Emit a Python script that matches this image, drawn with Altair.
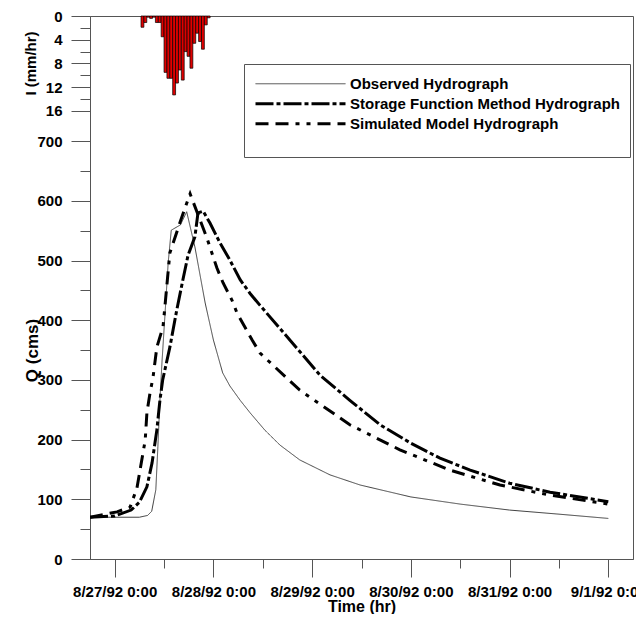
import altair as alt
import pandas as pd

series_names = ["Observed Hydrograph", "Storage Function Method Hydrograph", "Simulated Model Hydrograph"]

obs_time = ["1992-08-26T18:00", "1992-08-27T06:00", "1992-08-27T08:00", "1992-08-27T09:00", "1992-08-27T10:00",
            "1992-08-27T10:30", "1992-08-27T11:00", "1992-08-27T11:30", "1992-08-27T12:15", "1992-08-27T13:00",
            "1992-08-27T13:45", "1992-08-27T16:00", "1992-08-27T17:30", "1992-08-27T19:30", "1992-08-27T22:00",
            "1992-08-28T00:00", "1992-08-28T02:15", "1992-08-28T04:00", "1992-08-28T06:30", "1992-08-28T08:55",
            "1992-08-28T12:30", "1992-08-28T16:10", "1992-08-28T21:00", "1992-08-29T04:20", "1992-08-29T11:40",
            "1992-08-30T00:00", "1992-08-30T12:00", "1992-08-31T00:00", "1992-08-31T12:15", "1992-09-01T00:00"]
obs_q = [70, 70, 73, 80, 116, 188, 266, 330, 412, 496, 551, 560, 582, 523, 429,
         367, 312, 290, 266, 245, 216, 191, 166, 141, 124, 104, 92, 82, 75, 68]

sfm_time = ["1992-08-26T18:00", "1992-08-27T00:00", "1992-08-27T04:00", "1992-08-27T06:00", "1992-08-27T07:50",
            "1992-08-27T09:05", "1992-08-27T10:15", "1992-08-27T11:00", "1992-08-27T11:40", "1992-08-27T13:25",
            "1992-08-27T15:05", "1992-08-27T16:35", "1992-08-27T17:50", "1992-08-27T19:30", "1992-08-27T20:15",
            "1992-08-27T21:30", "1992-08-27T23:10", "1992-08-28T01:35", "1992-08-28T04:00", "1992-08-28T06:30",
            "1992-08-28T08:55", "1992-08-28T11:20", "1992-08-28T18:35", "1992-08-29T01:55", "1992-08-29T09:10",
            "1992-08-29T16:30", "1992-08-30T00:00", "1992-08-30T07:05", "1992-08-30T14:25", "1992-08-31T00:00",
            "1992-08-31T09:50", "1992-09-01T00:00"]
sfm_q = [70, 72, 82, 95, 121, 161, 216, 266, 300, 355, 417, 468, 509, 540, 580,
         583, 563, 530, 501, 468, 445, 425, 367, 308, 266, 225, 194, 169, 149, 127, 112, 96]

sim_time = ["1992-08-26T18:00", "1992-08-27T00:35", "1992-08-27T03:45", "1992-08-27T05:25", "1992-08-27T06:10",
            "1992-08-27T07:25", "1992-08-27T07:50", "1992-08-27T08:35", "1992-08-27T09:20", "1992-08-27T10:15",
            "1992-08-27T11:45", "1992-08-27T13:25", "1992-08-27T15:50", "1992-08-27T17:20", "1992-08-27T18:20",
            "1992-08-27T22:25", "1992-08-28T00:50", "1992-08-28T02:20", "1992-08-28T04:30", "1992-08-28T05:45",
            "1992-08-28T09:25", "1992-08-28T11:20", "1992-08-28T21:00", "1992-08-29T09:10", "1992-08-29T21:20",
            "1992-08-30T09:30", "1992-08-30T21:40", "1992-08-31T09:50", "1992-09-01T00:00"]
sim_q = [70, 79, 87, 119, 149, 199, 245, 278, 305, 355, 389, 513, 563, 593, 612,
         538, 488, 463, 434, 412, 367, 345, 283, 225, 183, 149, 124, 107, 92]

rain_mm = [1.9, 1.1, 0.2, 0.4, 0.2, 1.1, 1.1, 3.5, 9.5, 10.5, 10.5, 13.3,
           11.3, 9.1, 10.8, 6.0, 6.8, 8.8, 4.6, 2.9, 4.3, 5.6, 1.5, 0.3]
rain_first = "1992-08-27T06:24"
rain_step = "42min"

lines = pd.concat([
    pd.DataFrame({"series": series_names[0], "time": obs_time, "q": obs_q}),
    pd.DataFrame({"series": series_names[1], "time": sfm_time, "q": sfm_q}),
    pd.DataFrame({"series": series_names[2], "time": sim_time, "q": sim_q}),
], ignore_index=True)

starts = pd.date_range(rain_first, periods=len(rain_mm), freq=rain_step)
rain = pd.DataFrame({
    "start": starts.strftime("%Y-%m-%dT%H:%M"),
    "end": (starts + pd.Timedelta(rain_step)).strftime("%Y-%m-%dT%H:%M"),
    "rain": rain_mm,
})

FONT = "Liberation Sans"
x_scale = alt.Scale(domain=[alt.DateTime(year=1992, month=8, date=26, hours=18),
                            alt.DateTime(year=1992, month=9, date=1, hours=6)])
x_ticks = []
for (m, d) in [(8, 27), (8, 28), (8, 29), (8, 30), (8, 31), (9, 1)]:
    x_ticks.append(alt.DateTime(year=1992, month=m, date=d, hours=0))
    if (m, d) != (9, 1):
        x_ticks.append(alt.DateTime(year=1992, month=m, date=d, hours=12))

x_axis = alt.Axis(
    values=x_ticks,
    labelExpr="hours(datum.value) == 0 ? timeFormat(datum.value, '%-m/%-d/%y %-H:%M') : ''",
    tickSize={"condition": {"test": "hours(datum.value) != 0", "value": 9}, "value": 18},
    labelPadding=7, labelOverlap=False, labelFlush=False,
    title="Time (hr)", titleFontSize=16, titleY=52, titleBaseline="alphabetic")

legend = alt.Legend(orient="none", legendX=154, legendY=48, title=" ", titleOrient="bottom",
                    titleFontSize=10, titlePadding=3, symbolType="stroke",
                    symbolSize=8100, clipHeight=19.5, rowPadding=0, padding=10,
                    strokeColor="#555", fillColor="white", labelFont=FONT, labelFontWeight="bold",
                    labelFontSize=15, labelOffset=3, labelLimit=0, labelColor="black")

sw_scale = alt.Scale(type="ordinal", domain=series_names, range=[1, 3, 3])

line_layer = alt.Chart(lines).mark_line(clip=True).encode(
    x=alt.X("time:T", scale=x_scale, axis=x_axis),
    y=alt.Y("q:Q", scale=alt.Scale(domain=[0, 910], nice=False), axis=alt.Axis(
        orient="left", values=list(range(0, 701, 50)),
        labelExpr="datum.value % 100 == 0 ? datum.label : ''",
        tickSize={"condition": {"test": "datum.value % 100 != 0", "value": 10}, "value": 19},
        labelPadding=9, title="Q (cms)", titleFontSize=17, titleX=-58, titleY=334,
        titleAngle=-90, titleAlign="center", titleBaseline="middle")),
    color=alt.Color("series:N", scale=alt.Scale(domain=series_names, range=["#404040", "#000000", "#000000"]), legend=legend),
    strokeDash=alt.StrokeDash("series:N", scale=alt.Scale(domain=series_names, range=[[1, 0], [18, 3, 4, 3], [13, 7, 13, 7, 4, 7, 4, 7]]), legend=legend),
    strokeWidth=alt.StrokeWidth("series:N", scale=sw_scale, legend=legend),
    order=alt.Order("time:T"),
)

rain_layer = alt.Chart(rain).mark_bar(color="#e00000", stroke="black", strokeWidth=0.7).encode(
    x=alt.X("start:T", scale=x_scale, axis=x_axis),
    x2="end:T",
    y=alt.Y("rain:Q", scale=alt.Scale(domain=[0, 91.5], reverse=True, nice=False), axis=alt.Axis(
        orient="left", values=list(range(0, 17, 2)),
        labelExpr="datum.value % 4 == 0 ? datum.label : ''",
        tickSize={"condition": {"test": "datum.value % 4 != 0", "value": 10}, "value": 19},
        labelPadding=9, domain=False, title="I (mm/hr)", titleFontSize=15, titleX=-60, titleY=47,
        titleAngle=-90, titleAlign="center", titleBaseline="middle")),
    y2=alt.datum(0),
)

chart = alt.layer(rain_layer, line_layer).resolve_scale(y="independent").properties(
    width=543, height=543,
    autosize=alt.AutoSizeParams(type="none"),
    padding={"left": 82, "top": 8, "right": 3, "bottom": 55},
).configure_axis(
    labelFont=FONT, labelFontWeight="bold", labelFontSize=15, labelColor="black",
    titleFont=FONT, titleFontWeight="bold", titleColor="black",
    domainColor="#555", tickColor="#555", grid=False,
).configure_view(stroke="#555", strokeWidth=1)

chart.save("out.html", embed_options={"renderer": "svg", "actions": False})
